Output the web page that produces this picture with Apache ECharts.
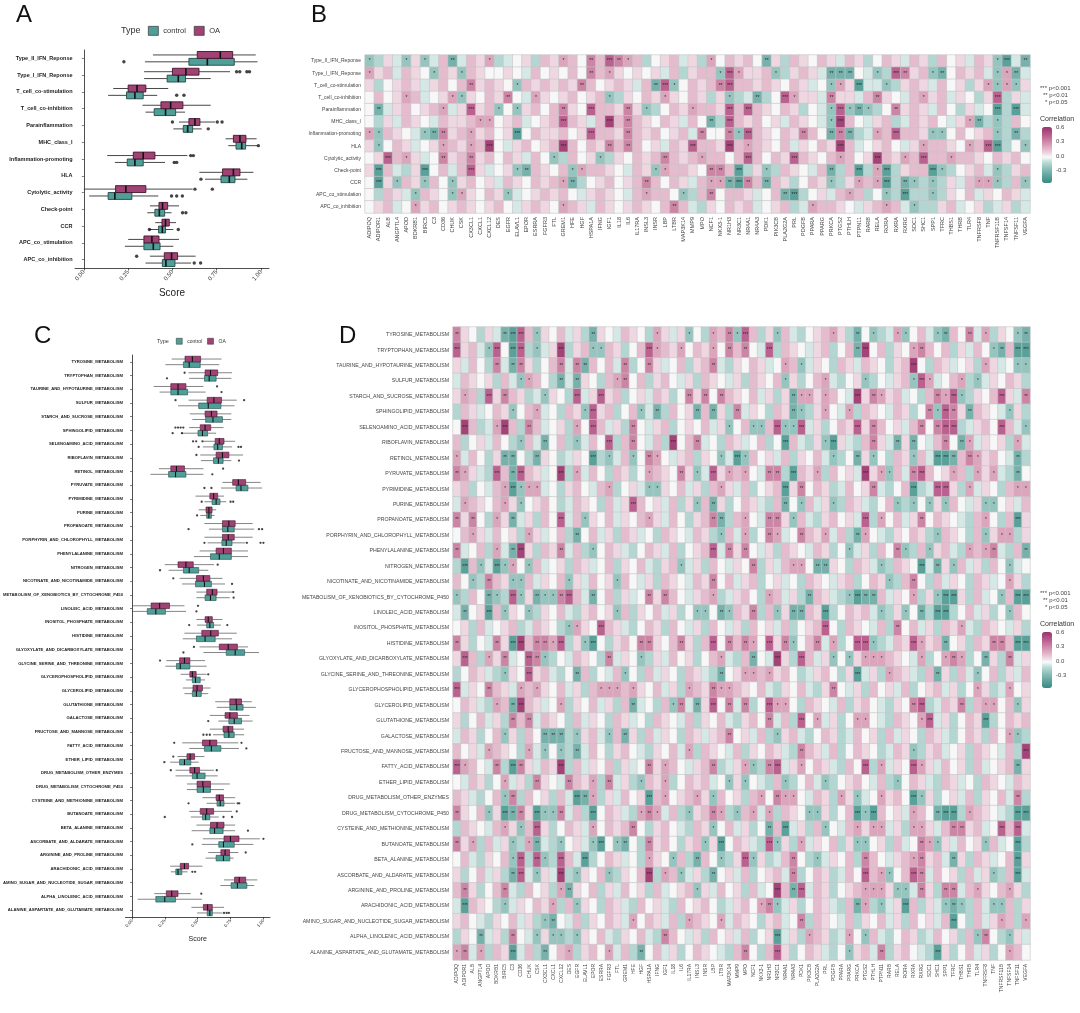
<!DOCTYPE html>
<html>
<head>
<meta charset="utf-8">
<script src="https://cdn.jsdelivr.net/npm/echarts@6/dist/echarts.min.js"></script>
<style>
html, body { margin: 0; padding: 0; background: #fff; }
#main { width: 1080px; height: 1013px; }
</style>
</head>
<body>
<div id="main"></div>
<script>
// ---------- panel A: immune scores ----------
var aNames = ['Type_II_IFN_Reponse', 'Type_I_IFN_Reponse', 'T_cell_co-stimulation', 'T_cell_co-inhibition',
  'Parainflammation', 'MHC_class_I', 'Inflammation-promoting', 'HLA', 'Cytolytic_activity', 'Check-point',
  'CCR', 'APC_co_stimulation', 'APC_co_inhibition'];
// [low whisker, q1, median, q3, high whisker]
var aOA = [[0.39, 0.64, 0.77, 0.84, 0.97], [0.34, 0.50, 0.576, 0.65, 0.825], [0.166, 0.25, 0.30, 0.35, 0.476],
  [0.331, 0.435, 0.49, 0.559, 0.716], [0.537, 0.593, 0.627, 0.655, 0.74], [0.80, 0.844, 0.881, 0.915, 0.975],
  [0.132, 0.279, 0.335, 0.401, 0.584], [0.652, 0.783, 0.844, 0.881, 0.957], [0.0, 0.179, 0.237, 0.35, 0.614],
  [0.373, 0.424, 0.444, 0.473, 0.537], [0.403, 0.441, 0.461, 0.482, 0.52], [0.25, 0.339, 0.384, 0.424, 0.537],
  [0.373, 0.454, 0.495, 0.529, 0.631]];
var aCtrl = [[0.345, 0.593, 0.697, 0.849, 0.98], [0.34, 0.47, 0.533, 0.574, 0.716], [0.137, 0.241, 0.288, 0.335, 0.414],
  [0.348, 0.397, 0.461, 0.518, 0.571], [0.505, 0.561, 0.586, 0.614, 0.665], [0.815, 0.859, 0.891, 0.913, 0.979],
  [0.175, 0.245, 0.288, 0.335, 0.458], [0.684, 0.774, 0.821, 0.853, 0.923], [0.03, 0.137, 0.175, 0.271, 0.42],
  [0.358, 0.401, 0.426, 0.456, 0.495], [0.367, 0.422, 0.443, 0.461, 0.505], [0.232, 0.339, 0.392, 0.43, 0.505],
  [0.348, 0.443, 0.463, 0.514, 0.605]];
var aOAOut = [[], [0.862, 0.88, 0.92, 0.935], [], [], [0.50, 0.753, 0.78], [], [0.603, 0.618], [], [0.627, 0.725], [], [], [], [0.298]];
var aCtrlOut = [[0.226], [], [0.524, 0.565], [], [0.702], [0.985], [0.51, 0.524], [0.661], [0.495, 0.524, 0.556],
  [0.557, 0.576], [0.37, 0.533], [], [0.623, 0.659]];
var aSig = ['***', '***', 'ns', '*', '****', 'ns', '****', '*', '***', '***', '***', 'ns', '**'];

// ---------- panel C: metabolism scores ----------
var cNames = ['TYROSINE_METABOLISM', 'TRYPTOPHAN_METABOLISM', 'TAURINE_AND_HYPOTAURINE_METABOLISM', 'SULFUR_METABOLISM',
  'STARCH_AND_SUCROSE_METABOLISM', 'SPHINGOLIPID_METABOLISM', 'SELENOAMINO_ACID_METABOLISM', 'RIBOFLAVIN_METABOLISM',
  'RETINOL_METABOLISM', 'PYRUVATE_METABOLISM', 'PYRIMIDINE_METABOLISM', 'PURINE_METABOLISM', 'PROPANOATE_METABOLISM',
  'PORPHYRIN_AND_CHLOROPHYLL_METABOLISM', 'PHENYLALANINE_METABOLISM', 'NITROGEN_METABOLISM',
  'NICOTINATE_AND_NICOTINAMIDE_METABOLISM', 'METABOLISM_OF_XENOBIOTICS_BY_CYTOCHROME_P450', 'LINOLEIC_ACID_METABOLISM',
  'INOSITOL_PHOSPHATE_METABOLISM', 'HISTIDINE_METABOLISM', 'GLYOXYLATE_AND_DICARBOXYLATE_METABOLISM',
  'GLYCINE_SERINE_AND_THREONINE_METABOLISM', 'GLYCEROPHOSPHOLIPID_METABOLISM', 'GLYCEROLIPID_METABOLISM',
  'GLUTATHIONE_METABOLISM', 'GALACTOSE_METABOLISM', 'FRUCTOSE_AND_MANNOSE_METABOLISM', 'FATTY_ACID_METABOLISM',
  'ETHER_LIPID_METABOLISM', 'DRUG_METABOLISM_OTHER_ENZYMES', 'DRUG_METABOLISM_CYTOCHROME_P450',
  'CYSTEINE_AND_METHIONINE_METABOLISM', 'BUTANOATE_METABOLISM', 'BETA_ALANINE_METABOLISM',
  'ASCORBATE_AND_ALDARATE_METABOLISM', 'ARGININE_AND_PROLINE_METABOLISM', 'ARACHIDONIC_ACID_METABOLISM',
  'AMINO_SUGAR_AND_NUCLEOTIDE_SUGAR_METABOLISM', 'ALPHA_LINOLENIC_ACID_METABOLISM',
  'ALANINE_ASPARTATE_AND_GLUTAMATE_METABOLISM'];
var cOA = [[0.302, 0.403, 0.459, 0.522, 0.681], [0.43, 0.556, 0.597, 0.652, 0.761], [0.164, 0.295, 0.35, 0.41, 0.543],
  [0.43, 0.572, 0.623, 0.681, 0.797], [0.44, 0.556, 0.604, 0.647, 0.756], [0.435, 0.519, 0.556, 0.599, 0.696],
  [0.543, 0.633, 0.664, 0.7, 0.785], [0.519, 0.64, 0.688, 0.737, 0.845], [0.205, 0.295, 0.338, 0.399, 0.543],
  [0.688, 0.766, 0.809, 0.865, 0.978], [0.483, 0.592, 0.621, 0.652, 0.7], [0.507, 0.563, 0.585, 0.609, 0.64],
  [0.551, 0.688, 0.737, 0.785, 0.918], [0.551, 0.688, 0.732, 0.778, 0.918], [0.514, 0.64, 0.696, 0.756, 0.882],
  [0.249, 0.35, 0.41, 0.466, 0.623], [0.362, 0.49, 0.543, 0.592, 0.688], [0.49, 0.568, 0.611, 0.647, 0.761],
  [0.005, 0.145, 0.21, 0.285, 0.399], [0.49, 0.556, 0.58, 0.611, 0.688], [0.399, 0.531, 0.599, 0.657, 0.797],
  [0.514, 0.664, 0.732, 0.802, 0.882], [0.261, 0.362, 0.399, 0.44, 0.556], [0.37, 0.44, 0.459, 0.488, 0.568],
  [0.386, 0.464, 0.495, 0.536, 0.597], [0.633, 0.744, 0.792, 0.833, 0.911], [0.592, 0.708, 0.744, 0.802, 0.894],
  [0.592, 0.693, 0.732, 0.768, 0.853], [0.382, 0.536, 0.592, 0.645, 0.809], [0.345, 0.418, 0.442, 0.476, 0.551],
  [0.331, 0.44, 0.476, 0.514, 0.623], [0.418, 0.495, 0.539, 0.597, 0.744], [0.536, 0.64, 0.664, 0.696, 0.785],
  [0.435, 0.519, 0.568, 0.621, 0.761], [0.49, 0.597, 0.647, 0.7, 0.785], [0.539, 0.7, 0.749, 0.814, 0.973],
  [0.58, 0.676, 0.708, 0.742, 0.809], [0.29, 0.367, 0.399, 0.43, 0.536], [0.7, 0.78, 0.816, 0.865, 0.954],
  [0.169, 0.261, 0.302, 0.35, 0.447], [0.452, 0.543, 0.575, 0.611, 0.7]];
var cCtrl = [[0.254, 0.391, 0.435, 0.519, 0.664], [0.435, 0.551, 0.587, 0.64, 0.756], [0.21, 0.295, 0.35, 0.423, 0.56],
  [0.35, 0.507, 0.58, 0.676, 0.78], [0.459, 0.56, 0.616, 0.688, 0.756], [0.374, 0.502, 0.536, 0.575, 0.64],
  [0.539, 0.623, 0.652, 0.688, 0.761], [0.524, 0.62, 0.657, 0.693, 0.756], [0.14, 0.278, 0.331, 0.41, 0.543],
  [0.676, 0.792, 0.829, 0.882, 0.99], [0.551, 0.609, 0.64, 0.669, 0.717], [0.519, 0.568, 0.585, 0.604, 0.628],
  [0.585, 0.688, 0.729, 0.778, 0.93], [0.575, 0.684, 0.717, 0.761, 0.862], [0.471, 0.597, 0.664, 0.756, 0.882],
  [0.278, 0.391, 0.435, 0.507, 0.58], [0.381, 0.483, 0.551, 0.604, 0.708], [0.49, 0.556, 0.597, 0.64, 0.744],
  [0.0, 0.116, 0.181, 0.254, 0.411], [0.495, 0.568, 0.592, 0.621, 0.676], [0.386, 0.49, 0.556, 0.633, 0.761],
  [0.543, 0.717, 0.785, 0.857, 0.966], [0.254, 0.338, 0.367, 0.44, 0.568], [0.41, 0.459, 0.483, 0.519, 0.556],
  [0.399, 0.459, 0.49, 0.527, 0.58], [0.645, 0.744, 0.797, 0.845, 0.942], [0.657, 0.737, 0.778, 0.833, 0.918],
  [0.616, 0.7, 0.737, 0.778, 0.853], [0.435, 0.551, 0.604, 0.676, 0.814], [0.29, 0.362, 0.399, 0.447, 0.507],
  [0.331, 0.459, 0.495, 0.556, 0.652], [0.418, 0.495, 0.543, 0.597, 0.7], [0.568, 0.647, 0.671, 0.7, 0.785],
  [0.447, 0.536, 0.56, 0.592, 0.66], [0.454, 0.592, 0.628, 0.693, 0.785], [0.531, 0.66, 0.696, 0.778, 0.923],
  [0.56, 0.64, 0.696, 0.744, 0.773], [0.295, 0.333, 0.35, 0.379, 0.423], [0.672, 0.754, 0.802, 0.874, 0.93],
  [0.043, 0.181, 0.249, 0.331, 0.531], [0.495, 0.572, 0.592, 0.611, 0.688]];
var cOAOut = [[], [0.40], [0.647], [0.331, 0.853], [], [0.33, 0.35, 0.37, 0.39], [0.464, 0.488, 0.536], [0.49], [0.693],
  [], [], [], [], [], [], [0.652], [0.314], [0.77], [0.502], [], [], [0.471], [0.213], [0.58], [], [], [], [],
  [0.321, 0.833], [0.314], [0.295, 0.645], [], [], [0.797], [], [1.0], [0.865], [], [], [0.527], []];
var cCtrlOut = [[], [0.266], [0.681], [], [], [0.309, 0.38], [0.507, 0.81, 0.829], [0.814], [0.611], [0.551, 0.604],
  [0.53, 0.75, 0.77], [0.495], [0.43, 0.966, 0.99], [0.551, 0.874, 0.978, 1.0], [], [0.213], [0.761], [0.773], [0.49],
  [0.435, 0.725], [], [0.391], [], [], [], [], [0.58], [0.543, 0.568, 0.592], [0.87], [0.246], [], [],
  [0.43, 0.804, 0.816], [0.249, 0.696, 0.761], [0.882], [0.459], [], [0.459, 0.48], [], [], [0.7, 0.72, 0.737]];
var cSig = ['ns', 'ns', 'ns', '**', '**', '*', 'ns', '**', 'ns', '**', '**', 'ns', 'ns', 'ns', '**', '**', 'ns', 'ns',
  '*', '**', '*', '***', 'ns', '***', 'ns', 'ns', '*', '**', '**', '***', '**', 'ns', '**', 'ns', 'ns', '*', '**',
  '***', 'ns', '***', '*'];

var scoreTicks = [0, 0.25, 0.5, 0.75, 1];

// ---------- panels B / D: correlation heatmaps ----------
var genes = ['ADIPOQ', 'ADIPOR1', 'ALB', 'ANGPTL4', 'APOD', 'BDKRB1', 'BIRC5', 'C3', 'CD36', 'CHUK', 'CSK', 'CX3CL1',
  'CXCL1', 'CXCL12', 'DES', 'EGFR', 'ELAVL1', 'EPOR', 'ESRRA', 'FGFR3', 'FTL', 'GREM1', 'HFE', 'HGF', 'HSPA1A', 'IFNG',
  'IGF1', 'IL18', 'IL6', 'IL17RA', 'INSL3', 'INSR', 'LBP', 'LTBR', 'MAP3K14', 'MMP9', 'MPO', 'NCF1', 'NKX3-1', 'NR1H3',
  'NR3C1', 'NR4A1', 'NR4A3', 'PDK1', 'PIK3CB', 'PLA2G2A', 'PRL', 'PDGFB', 'PPARA', 'PPARG', 'PRKCA', 'PTGS2', 'PTHLH',
  'PTPN11', 'RARB', 'RELA', 'RORA', 'RXRA', 'RXRG', 'SDC1', 'SHC1', 'SPP1', 'TFRC', 'THBS1', 'THRB', 'TLR4', 'TNFRSF8',
  'TNF', 'TNFRSF11B', 'TNFSF14', 'TNFSF11', 'VEGFA'];

// correlation levels
var LEVEL = { a: -0.42, b: -0.32, c: -0.22, d: -0.14, e: -0.07, f: 0, g: 0.07, h: 0.15, i: 0.22, j: 0.32, k: 0.44, l: 0.56 };

// faint background tint of each cell, one string per row
var bBg = [
  'fdgehgfehg ehgfdefgdh gehfdhgfgh dfghegdhfh ghfegdhgfh gehgdfhgeh gdhfgehgfd eh',
  'hghehgfdhg fhgffgfehf gfhfghhgfg fgehdghhfh fgghfdghge gdefehdfhg hgefhghegd ge',
  'gdfghgeghf hhghgfdhgh ghgfhfghge hgdhfhghgh hhghgfhgef hdgeeefdgh gehfgdghgd gg',
  'fhfghhefgh dgfhgffegg fghfghedgf hgegfhgdgh degdfhhgge fggehdgfeh fghegfdggd ge',
  'fdeghfghge gdghdfdghf hggfehhgfg gdfhgehhgf hhhgfhgdfe hdhdddfggh gehfdgefhd ge',
  'fdgehgfehg ghhhfghefg hfhgehghfh gfhgehfgdh hghfgehgfe gdhfeghdeh ghfegdhdgd hf',
  'hdhgfedddg hhghfgdfhg ghfgehhgfh ghfghegffh hdhgfhgehf gdhdehhfhh gedfhfghed gd',
  'gdfhgefghh ghhhfeghfg hghfhghhgh fgehgfhhgf hhhgfhegfh ghhefghfeg ehhgfehghd fh',
  'fghhhgefhg hhghfhgehf gdhfghdgfh ghfhghghhf hghfhghhgf hghfghhghh ghhghhgfhg hf',
  'gdhedgdfhe hhgefgddhg fhgdhhgfeh gfdhhgfehh hdgedhgfeh gdhedfhdgh hgddfghedd gh',
  'fdgdhgdhfd ghfgehgfhg hghdfghfgh ghfhgehfhh ddhghgdfhg hdghhfhdgd dhdgehghhd hg',
  'fdhgedhgfd hgfhgdefgh ghfeghgfeh ghhfgdhgfh hgefhgddfg ehghdfhded dhdgfhegfh ge',
  'fghefhghfg hgfghfeghg fhhgehgfgh gfhghedgfh ghefghdegh hgfeghdhef ddghefgdeg de'
];
// starred cells: column + level
var bMarks = [
  '0c 4c 6c 9b 13i 21i 24j 26k 27j 28i 37i 43b 68c 69a 71b',
  '0i 7c 10c 24j 26i 38c 39k 40i 44c 50b 51b 52b 55c 57k 58j 61c 62b 68c 69i 70b',
  '11j 16c 23j 31b 32k 33c 38j 39k 50c 51i 53a 56c 67i 68c 69i 70c',
  '4i 9i 10c 15j 18i 26c 32i 39c 42b 45k 46i 50j 55j 60i 68k',
  '1b 8i 11k 14c 16c 21j 24k 28j 30c 35i 39k 41k 50c 51k 52c 53b 54c 57j 68a 70a',
  '12i 13i 21k 26l 28j 37b 39k 50c 51l 65i 66b 68c',
  '0i 1c 6c 7b 8j 11i 16a 24k 28j 36j 39j 40c 41k 47j 50b 51j 52b 55i 57k 61c 62c 68c 70b',
  '1c 8i 11i 13l 21l 26j 28j 35k 39l 41i 51l 60i 65i 67k 68a 71c',
  '2k 4i 8j 11j 20c 25c 32j 36i 41k 46k 51i 55l 58i 60k 63i',
  '1a 6a 11k 16c 17b 22c 23i 31c 32i 37j 38j 40a 43c 50b 53a 55i 56a 61a 62c 68c',
  '1a 3c 6c 9c 21i 22b 30j 37i 38i 39b 40a 41j 43b 50c 53i 55i 56a 58b 59c 61c 66i 67i 68c 71c',
  '5c 9c 10i 15c 30i 34c 37j 45b 46a 52i 56c 58a 61c',
  '5i 21i 33j 48i 56i 59c'
];

var dBg = [
  'hgfdgehgfh dgfhegdhgf ehgfdhgegh fdghegfhdg ghedfghegd hfgdehgfhe gdhfgehdgf hg',
  'fghedgfhgd hegfdghfeh gdfhgehgdf hgefdhgfeg dhgfeghdfh gefhdgfegh fhdgehfgdh eg',
  'gehfdgehfg dfhgedghfh egdfhgefhd ghfedgfhge fdhgegfdhg ehgfdghefd hgefgdhgef dh',
  'ehgfgdhefg hfdgehgfdh gefhdghfeg dhgfegdhgf hegdfhgedf ghdfeghfdg efhgdhegfh gd',
  'gfhdegfhgd ehgfdhegfg hdfgehgdfh gefdhgfheg dgfhegdhfe hgdfghefdh ghfedgfhdg eh',
  'dhgefhgdfh gefdhgfegh dfhgegdhfg ehfgdhegfd hgefdghfeg dhgfehgdfg hefgdhgfeh gd',
  'fghdefghdg hefgdhfghe gdhfeghdfg fhegdfhgeh dgfhegdfhg egdhfgehdf ghfdeghfdh eg',
  'hdfgehfdgh egfhdgehfg dhgfehdgfh gefdhgefhd fghedgfhge dhfgehgdfe hgfdhegfgd he',
  'gehfdghefd hgfdegfhdg ehgfdhfegh dgfhegdhfg ehdgfhegdf hgefdhgfhe dgfhedghfe gd',
  'fhgedfhgdh gefhdgehfd hgdfehgfdg hefgdhgfeh gdfhgedhfg ehgdfhegdh fgehdfghed hf',
  'ghdfehgdfg hefdghfehg dfgehdgfhe gdhfgehdfg hegdfhgdeh fghedfhgde hfgdhegfdh ge',
  'edhgfhegdf ghfdehgfdh egdhfgehdg fhegdfhged hgfdhegfdh gedfhgdhfe gdhfegdhfg eh',
  'hgefdhgfeg dhfgehdgfh egfhdgehfd ghefdhgfeh dgfhedghfg ehdgfhegdf hgfedhgfdh eg',
  'fhdgehfgdh gefhdgfheg dhgefdhgfe hgdfhegdfh gefdhgfehd ghfedgfhgd ehgfdhegfh dg',
  'gefhdgefhg dhgfehdgfh gedfhgehdf ghfedghfeg dhgfehgdfh egdhfgedhf ghedfhgfed hg',
  'dghfeghdfg hefgdhgefh dgfhedghfe gdhfegfhdg ehgdfhegfd hgefdhgfhe dgfhegdhfg ef',
  'hfgdehgfdh egfhdgehfg dhfegdhgfe hgdfheghdf gefdhgfegh dfhgedhgfd hegfdhgefh gd',
  'gdhfegdhfg ehgfdhegfh dgefhgdhfe ghfdeghfdg hegdfhgedh fgdhegfhdg ehfgdhefgh dg',
  'ehfgdhegfh dgfhedghfg ehdgfhegdf hgfedhgfdh egdfhgedfh ghefdghfed hgdfhegdfg hf',
  'fgdhefghde hgfdhegfdh gedfhgdhfe gdhfegdhfg ehdfghefdh gfehdgfheg dhgfedhgfe gd',
  'hgdfehgfdh egfhdgehfd ghfedgfheg dhgfehdgfh gedfhgehdf hgfdehgfdg hefgdhgfeh dg',
  'gehdfghefd hgdfehgfdh egfhdgehfg dfhgedhgfe hgdfhegdfh gefdhgfehd fghedfhgdh eg',
  'dfhgedhgfe ghedfghdfe hgfdhegfdh gedhfgedhf ghfdeghfdg hegdfhgedh fgdhegfhdg eh',
  'hegfdhgefh dgfhegdhfg ehdgfhegdf hgefdhgfhe dgfhedghfe gdhfgehdfg hegdfhgdeh fg',
  'fhgedfhgdh gefhdgfheg dhgefdhgfe hgdfhegdfh gefdhgfehd ghfedgfhgd ehgfdhegfh dg',
  'gdfhegdfhg ehgfdhegfd hgefdhgfeh dgfhedghfg ehdgfhegdf hgfedhgfdh egdfhgedfh gh',
  'ehgdfhegdh fgehdfghed hfgdhegfdh geghdfgehd fghedfhgde hfgdhegfdh gedfhgdhfe gd',
  'hfgedhgfdh egfhdgehfd ghfedgfheg dhgfehdgfh gedfhgehdf hgfdehgfdg hefgdhgfeh dg',
  'gdhfegdhfg ehgfdhegfh dgefhgdhfe ghfdeghfdg hegdfhgedh fgdhegfhdg ehfgdhefgh dg',
  'fehgdfhegd hgfedhgfdh egdfhgedfh ghefdghfed hgdfhegdfg hfehdgfhge dhgefdhgfe hg',
  'hgedfhgedh fgdhegfhdg ehfgdhefgh dgehfgdhef ghdfehgdfg hefdghfehg dfgehdgfhe gd',
  'egfhdgehfg dhgfehdgfh gedfhgehdf ghfedghfeg dhgfehgdfh egdhfgedhf ghedfhgfed hg',
  'dhgfehdgfh egdfhgedfh ghefdghfed hgdfhegdfg hfegdhgfeh dgfhegdhfg ehfdghefdh ge',
  'hgfdhegfdh gedhfgedhf ghfdeghfdg hegdfhgedh fgdhegfhdg ehfgdhefgh dgehfgdhef gd',
  'fhedgfhged hgdfhegdfh gefdhgfehd ghfedgfhgd ehgfdhegfh dghfeghdfg hefgdhgefh dg',
  'gdfhegdhfe hgefdhgfhe dgfhedghfe gdhfgehdfg hegdfhgdeh fghedfhgde hfgdhegfdh ge',
  'hegdfhgedh fgdhegfhdg ehfgdhefgh dgehfgdhef ghdfehgdfg hefdghfehg dfgehdgfhe gd',
  'edhgfdhegf hgfdhegfdh gedhfgedhf ghfdeghfdg hegdfhgedh fgdhegfhdg ehfgdhefgh dg',
  'ghfedgfheg dhgfehdgfh gedfhgehdf hgfdehgfdg hefgdhgfeh dgfhegdhfg ehgfdhegfh dg',
  'dgfhegdhfe hgefdhgfhe dgfhedghfe gdhfgehdfg hegdfhgdeh fghedfhgde hfgdhegfdh ge',
  'hgefdhgfeh dgfhedghfg ehdgfhegdf hgfedhgfdh egdfhgedfh ghefdghfed hgdfhegdfg hf'
];
var dMarks = [
  '0j 6b 7a 8k 10c 17b 25i 29c 32i 34j 35c 36k 40c 47i 50b 52c 55i 56c 60c 61b 64j 66i 70c 71b',
  '0k 4c 5k 7a 8k 10c 13l 17c 18c 24k 25i 28i 32i 34j 36j 39k 50b 51l 57i 58j 67c 68b 70a 71a',
  '5j 7b 8j 13j 15j 16b 21j 24j 32j 41i 43c 57l 66i 70c 71c',
  '8c 9i 13b 15b 20i 21j 41c 46i 51c 57c 58k 59i 63i 65c',
  '1i 4k 6j 11c 15k 18k 29j 31j 33j 42b 43i 44i 46i 50l 52j 53i 60j 61i 62k 63c 68k 71j',
  '7c 10i 16c 17k 23c 25b 30b 32b 35j 42b 43c 46i 49i 59j 60c 61k 62j 64b 69c',
  '1l 5i 6l 9j 15i 17k 22j 34c 37c 38c 40k 41c 42c 43k 50k 52j 58j 60j 61k 62k 68k 71c',
  '8c 11b 15c 19k 22j 27l 30j 41a 46c 47a 52j 55b 57b 61j 63b 64i 70i',
  '0i 6b 7b 10b 17a 19c 22c 24j 25i 33c 35a 36c 47c 50b 52c 57c 60a 61a 62b 64j 65i 70b',
  '0j 1i 5k 7b 8k 13l 15i 24i 28j 30c 32k 34i 36i 39j 40j 42a 45i 51l 53i 54c 57j 58k 62i 65i 67i 70b',
  '6i 7a 8c 9i 10i 19i 24c 25c 33i 41a 43j 52j 57a 60k 61k 64i 70i 71i',
  '1i 6i 8c 22k 30c 32b 41b 43c 47c 55c 57c 59c 61c 66c 67c',
  '0j 2j 5i 7b 13k 16c 24i 32j 33b 36i 39j 40j 42c 51k 53i 58j 66i 70a',
  '2i 9i 15b 33c 36i 39j 40i 43j 46i 50b 51i 60c 66c 68i 69i',
  '0j 5i 7b 8l 13j 17c 32k 34j 36j 49c 55j 56c 59c 64i 66i 67j 71b',
  '1a 3c 5a 6c 7i 9c 28c 37j 42i 43i 45b 46b 53c 58a 60b 62c 69c',
  '2c 4j 7c 8c 14c 20c 32j 54c 57j 69i',
  '0c 4b 5c 7k 8c 10b 11c 12c 13j 14k 17b 24j 26j 32i 39i 44b 49c 50a 51b 52b 57i 60c 61a 62a 68c 70a 71a',
  '1b 4a 6c 9c 20c 30c 31c 33b 34c 37j 40c 42b 43b 46a 53c 56c 58b 60a 61a 69c',
  '14c 15i 18k 46k 55j 63i',
  '0j 5j 7a 8l 10j 11j 12i 13k 16c 17a 23j 24j 28j 32k 34j 36j 37i 39k 41j 42c 45j 47i 50k 51k 52c 57k 58i 61b 67j 68j 70a 71a',
  '1k 4i 6j 9k 10j 11c 19j 23c 33i 37b 40l 43k 47c 49c 51i 52i 53i 58i 61i 62j 63i 66b 69j',
  '6c 9k 15b 21c 33b 36i 37i 39i 50a 54i 60b 65c',
  '0k 4j 8i 10i 18i 19i 20i 22i 29i 32j 33i 34i 47j 65i 69i',
  '5i 7b 8l 13i 22b 27c 28j 30b 32k 34j 36j 39k 40i 41i 57j 58k 63j 66i 67i 70c',
  '7j 9j 39j 43k 45i 50i 51i 58i 59k 66a',
  '6c 11b 12b 13b 15c 19c 21b 34j 40c 69i 70c',
  '4i 9i 11c 13c 15b 29i 43j 57c 71l',
  '0k 1i 5j 7a 8j 13l 24j 26i 32j 36i 37c 39j 40k 43i 51k 53i 57k 58i 70b',
  '6i 10j 14j 17i 19j 23c 26i 34c 36c 41c 46c 55c',
  '6c 7j 15a 16b 17i 24a 26i 30i 32c 38i 40j 41i 42i 48i 50c 53i 57a 58c 70j',
  '0j 4c 6a 7b 8j 10a 11c 12c 13j 17a 23i 24j 25i 29c 32j 33i 35c 37i 39i 44c 45c 50a 51c 52a 57i 60b 61a 62a 64i 70a 71a',
  '6i 8c 10k 17i 22j 32c 39b 41a 46c 50i 52i 53i 57i 58i 62j 63j 68k 70k',
  '0j 2i 7c 9i 10b 13c 17c 18a 20c 21b 24j 31c 33a 39k 40c 43i 50c 51c 58j 59i 60c 66c 70a',
  '7c 8k 10k 11c 13k 16a 24i 27c 30b 33c 36k 37c 42j 45c 51j 57i 58j 62b 70a',
  '7b 8k 10c 13l 15c 19c 24l 26i 28c 32b 42j 51k 53i 54c 57k 58j 67c 70a',
  '1j 6j 13i 14b 30c 40l 42b 43k 51i 52i 53i 55c 56c 58j 61j 62j 65i 69i',
  '1a 6c 12i 15c 38i 39j 40c 50b 51i 53c 56a 61c 62b 63c 67c 68c',
  '11c 12b 22i 29i 33i 43j 62a 68i 71i',
  '3b 7j 10c 12c 13c 15c 26j 40a 44i 49i 51c 65c 66j 69c',
  '0i 1j 3i 7a 11b 14i 19i 23b 36j 40k 49c 53j 60a 69i'
];

var corrColors = ['#3a8a83', '#4f9a93', '#67a9a2', '#82b9b3', '#a0cbc6', '#c3dfdb', '#f8fbfb',
  '#eed3de', '#e2b5c8', '#d698b3', '#c97ca0', '#bb6190', '#aa4a7e', '#983469'];
var corrMin = -0.55, corrMax = 0.62;

var CTRL = '#4f9f98', CTRL_DARK = '#1f4a46', OA = '#a04374', OA_DARK = '#43132c';
var FONT = 'Liberation Sans, Arial, sans-serif';

function buildCells(bg, marks) {
  var out = [];
  bg.forEach(function (s, r) {
    var cells = s.replace(/\s/g, '');
    var vals = genes.map(function (g, c) {
      var v = LEVEL[cells.charAt(c)];
      return v === undefined ? 0 : v;
    });
    (marks[r] || '').split(' ').forEach(function (m) {
      if (!m) return;
      var col = parseInt(m, 10);
      var lv = LEVEL[m.replace(/[0-9]/g, '')];
      if (col < genes.length && lv !== undefined) vals[col] = lv;
    });
    vals.forEach(function (v, c) { out.push([c, r, v]); });
  });
  return out;
}

function stars(v) {
  var a = Math.abs(v);
  if (a >= 0.4) return '***';
  if (a >= 0.3) return '**';
  if (a >= 0.2) return '*';
  return '';
}

function boxRows(stats, grp) {
  return stats.map(function (s, i) { return [i, s[0], s[1], s[2], s[3], s[4], grp]; });
}

function outRows(outs) {
  var res = [];
  outs.forEach(function (list, i) { list.forEach(function (v) { res.push([v, i]); }); });
  return res;
}

function renderBox(params, api) {
  var cat = api.value(0), grp = api.value(6);
  var band = api.size([0, 1])[1];
  var h = band * 0.41;
  var cy = api.coord([0, cat])[1] + (grp === 0 ? h / 2 : -h / 2);
  var px = function (v) { return api.coord([v, cat])[0]; };
  var lo = px(api.value(1)), q1 = px(api.value(2)), md = px(api.value(3)), q3 = px(api.value(4)), hi = px(api.value(5));
  var dark = grp === 0 ? CTRL_DARK : OA_DARK;
  var lw = band > 15 ? 0.9 : 0.6;
  return {
    type: 'group',
    children: [
      { type: 'line', shape: { x1: lo, y1: cy, x2: q1, y2: cy }, style: { stroke: '#333', lineWidth: lw } },
      { type: 'line', shape: { x1: q3, y1: cy, x2: hi, y2: cy }, style: { stroke: '#333', lineWidth: lw } },
      { type: 'rect', shape: { x: q1, y: cy - h / 2, width: q3 - q1, height: h },
        style: { fill: api.visual('color'), stroke: dark, lineWidth: lw } },
      { type: 'line', shape: { x1: md, y1: cy - h / 2, x2: md, y2: cy + h / 2 }, style: { stroke: '#111', lineWidth: lw * 1.8 } }
    ]
  };
}

function boxSeries(name, stats, grp, axis, color) {
  return {
    type: 'custom', name: name, xAxisIndex: axis, yAxisIndex: axis, renderItem: renderBox,
    itemStyle: { color: color }, encode: { x: [1, 2, 3, 4, 5], y: 0 },
    data: boxRows(stats, grp), silent: true, z: 3
  };
}

function outlierSeries(name, outs, axis, offset, size) {
  return {
    type: 'scatter', name: name, xAxisIndex: axis, yAxisIndex: axis, data: outRows(outs),
    symbolSize: size, symbolOffset: [0, offset], itemStyle: { color: '#151515' }, silent: true, z: 4
  };
}

function sigSeries(sig, axis, fontSize, dy) {
  return {
    type: 'scatter', xAxisIndex: axis, yAxisIndex: axis, symbolSize: 1, itemStyle: { opacity: 0 }, silent: true,
    data: sig.map(function (s, i) { return [1.0, i, s]; }),
    label: { show: true, position: 'inside', offset: [0, dy], formatter: function (p) { return p.value[2]; },
      fontSize: fontSize, color: '#555', fontFamily: FONT }
  };
}

function scoreAxis(gridIndex, fontSize, nameSize, nameGap, min, max) {
  return {
    type: 'value', gridIndex: gridIndex, min: min, max: max, splitLine: { show: false },
    name: 'Score', nameLocation: 'middle', nameGap: nameGap,
    nameTextStyle: { fontSize: nameSize, color: '#222', fontFamily: FONT },
    axisLine: { show: true, lineStyle: { color: '#222', width: 0.8 } },
    axisTick: { show: true, length: 2.5, customValues: scoreTicks, lineStyle: { color: '#222', width: 0.7 } },
    axisLabel: { customValues: scoreTicks, rotate: 50, fontSize: fontSize, color: '#333', margin: 3,
      fontFamily: FONT, formatter: function (v) { return v.toFixed(2); } }
  };
}

function catAxis(gridIndex, names, fontSize, bold) {
  return {
    type: 'category', gridIndex: gridIndex, data: names, inverse: true,
    axisLine: { show: true, lineStyle: { color: '#222', width: 0.8 } },
    axisTick: { show: true, length: 2, alignWithLabel: true, lineStyle: { color: '#222', width: 0.6 } },
    axisLabel: { fontSize: fontSize, color: '#222', fontWeight: bold ? 'bold' : 'normal', margin: 2.5,
      fontFamily: FONT, interval: 0 }
  };
}

function heatX(gridIndex, fontSize) {
  return {
    type: 'category', gridIndex: gridIndex, data: genes, position: 'bottom',
    axisLine: { show: false }, axisTick: { show: false }, splitArea: { show: false },
    axisLabel: { rotate: 90, fontSize: fontSize, color: '#444', interval: 0, margin: 4, fontFamily: FONT }
  };
}

function heatY(gridIndex, names, fontSize) {
  return {
    type: 'category', gridIndex: gridIndex, data: names, inverse: true,
    axisLine: { show: false }, axisTick: { show: false }, splitArea: { show: false },
    axisLabel: { fontSize: fontSize, color: '#444', interval: 0, margin: 4, fontFamily: FONT }
  };
}

function heatSeries(axis, cells, fontSize) {
  return {
    type: 'heatmap', xAxisIndex: axis, yAxisIndex: axis, data: cells, silent: true,
    itemStyle: { borderColor: '#c6c6c6', borderWidth: 0.6 },
    label: { show: true, fontSize: fontSize, color: '#2a2a2a', fontFamily: FONT,
      formatter: function (p) { return stars(p.value[2]); } },
    emphasis: { disabled: true }
  };
}

function barTicks(top, h) {
  return [0.6, 0.3, 0.0, -0.3].map(function (v) {
    var y = top + (corrMax - v) / (corrMax - corrMin) * h;
    return { type: 'text', left: 1056, top: y - 3.5, style: { text: v.toFixed(1), fontSize: 6, fill: '#444', fontFamily: FONT } };
  });
}

function pLegend(top) {
  return [
    { type: 'text', left: 1040, top: top, style: { text: '*** p<0.001', fontSize: 6, fill: '#444', fontFamily: FONT } },
    { type: 'text', left: 1043, top: top + 7, style: { text: '** p<0.01', fontSize: 6, fill: '#444', fontFamily: FONT } },
    { type: 'text', left: 1045, top: top + 14, style: { text: '* p<0.05', fontSize: 6, fill: '#444', fontFamily: FONT } },
    { type: 'text', left: 1040, top: top + 31, style: { text: 'Correlation', fontSize: 7, fill: '#333', fontFamily: FONT } }
  ];
}

var bCells = buildCells(bBg, bMarks);
var dCells = buildCells(dBg, dMarks);

var chart = echarts.init(document.getElementById('main'), null, { renderer: 'canvas' });

var option = {
  animation: false,
  backgroundColor: '#ffffff',
  grid: [
    { left: 75, top: 50, width: 194, height: 218 },
    { left: 118, top: 355, width: 152, height: 562 },
    { left: 365, top: 55, width: 665, height: 158 },
    { left: 453, top: 327, width: 577, height: 633 }
  ],
  xAxis: [
    scoreAxis(0, 6, 10, 20, -0.05, 1.045),
    scoreAxis(1, 4.5, 7, 15, -0.05, 1.05),
    heatX(2, 5.5),
    heatX(3, 5)
  ],
  yAxis: [
    catAxis(0, aNames, 5.5, true),
    catAxis(1, cNames, 4.2, true),
    heatY(2, aNames, 5),
    heatY(3, cNames, 5.2)
  ],
  legend: [
    { left: 148, top: 26, padding: 0, data: ['control', 'OA'], icon: 'rect', itemWidth: 10, itemHeight: 9, itemGap: 8,
      selectedMode: false, textStyle: { fontSize: 7.5, color: '#333', fontFamily: FONT },
      itemStyle: { borderColor: '#333', borderWidth: 0.7 } },
    { left: 176, top: 338, padding: 0, data: ['control', 'OA'], icon: 'rect', itemWidth: 6, itemHeight: 6, itemGap: 5,
      selectedMode: false, textStyle: { fontSize: 5, color: '#333', fontFamily: FONT },
      itemStyle: { borderColor: '#333', borderWidth: 0.5 } }
  ],
  visualMap: [
    { type: 'continuous', seriesIndex: 10, min: corrMin, max: corrMax, calculable: false, left: 1042, top: 127,
      itemWidth: 10, itemHeight: 56, padding: 0, text: null, inRange: { color: corrColors }, hoverLink: false },
    { type: 'continuous', seriesIndex: 11, min: corrMin, max: corrMax, calculable: false, left: 1042, top: 632,
      itemWidth: 10, itemHeight: 56, padding: 0, text: null, inRange: { color: corrColors }, hoverLink: false }
  ],
  graphic: [
    { type: 'text', left: 16, top: 3, style: { text: 'A', fontSize: 24, fill: '#111', fontFamily: FONT } },
    { type: 'text', left: 311, top: 3, style: { text: 'B', fontSize: 24, fill: '#111', fontFamily: FONT } },
    { type: 'text', left: 34, top: 324, style: { text: 'C', fontSize: 24, fill: '#111', fontFamily: FONT } },
    { type: 'text', left: 339, top: 324, style: { text: 'D', fontSize: 24, fill: '#111', fontFamily: FONT } },
    { type: 'text', left: 121, top: 26, style: { text: 'Type', fontSize: 9, fill: '#333', fontFamily: FONT } },
    { type: 'text', left: 157, top: 338, style: { text: 'Type', fontSize: 5.5, fill: '#333', fontFamily: FONT } }
  ].concat(pLegend(85), barTicks(127, 56), pLegend(590), barTicks(632, 56)),
  series: [
    boxSeries('control', aCtrl, 0, 0, CTRL),
    boxSeries('OA', aOA, 1, 0, OA),
    outlierSeries('ctrl-out-a', aCtrlOut, 0, 3.4, 3.4),
    outlierSeries('oa-out-a', aOAOut, 0, -3.4, 3.4),
    sigSeries(aSig, 0, 7, -3),
    boxSeries('control', cCtrl, 0, 1, CTRL),
    boxSeries('OA', cOA, 1, 1, OA),
    outlierSeries('ctrl-out-c', cCtrlOut, 1, 2.8, 2.3),
    outlierSeries('oa-out-c', cOAOut, 1, -2.8, 2.3),
    sigSeries(cSig, 1, 5, 0),
    heatSeries(2, bCells, 5),
    heatSeries(3, dCells, 4.6)
  ]
};

chart.setOption(option);
window.addEventListener('resize', function () { chart.resize(); });
</script>
</body>
</html>
